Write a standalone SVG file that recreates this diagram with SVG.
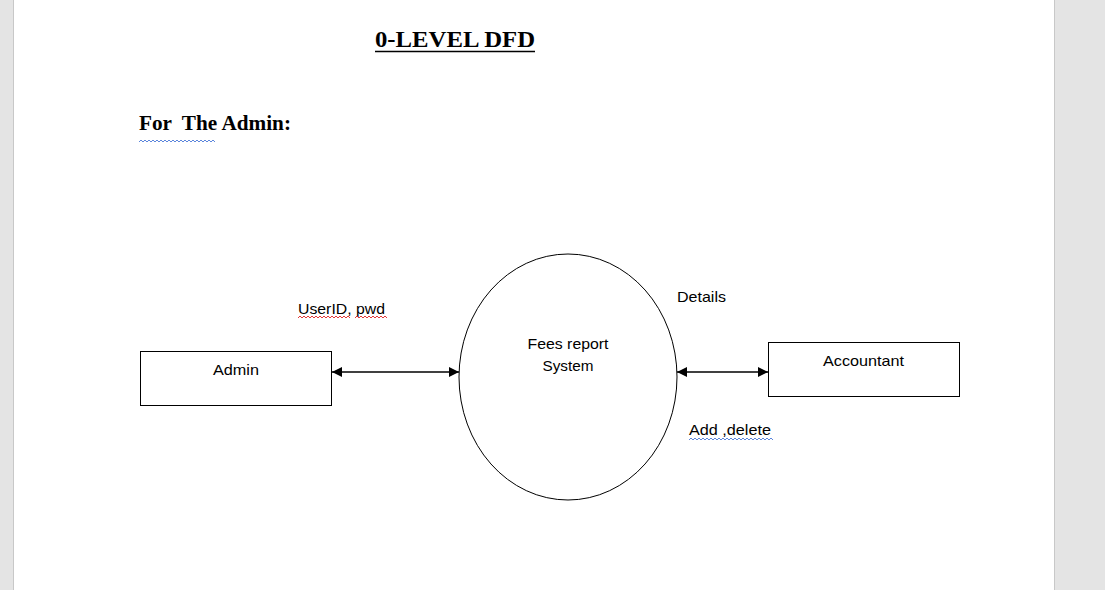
<svg xmlns="http://www.w3.org/2000/svg" width="1105" height="590" viewBox="0 0 1105 590">
<defs>
<marker id="arr" viewBox="0 0 10 10" refX="10" refY="5" markerWidth="10" markerHeight="10" markerUnits="userSpaceOnUse" orient="auto-start-reverse">
<path d="M0,0 L10,5 L0,10 z" fill="#000"/>
</marker>
<pattern id="wave" width="4" height="4" patternUnits="userSpaceOnUse"><path d="M0,3 L2,1 L4,3" fill="none" stroke-width="0.8"/></pattern>
</defs>
<style>
.lbl{font-family:"Liberation Sans",Arial,sans-serif;font-size:15px;fill:#000}
.ttl{font-family:"Liberation Serif","Times New Roman",serif;font-weight:bold;fill:#000}
.shape{fill:#fff;stroke:#000;stroke-width:1}
.conn{stroke:#000;stroke-width:1.3;fill:none}
.sq-blue{fill:none;stroke:#4a78d8;stroke-width:0.9}
.sq-red{fill:none;stroke:#e02020;stroke-width:0.9}
</style>
<rect x="0" y="0" width="1105" height="590" fill="#e4e4e4"/>
<rect x="13" y="0" width="1041" height="590" fill="#fff"/>
<line x1="13.5" y1="0" x2="13.5" y2="590" stroke="#c8c8c8"/>
<line x1="1054.5" y1="0" x2="1054.5" y2="590" stroke="#c8c8c8"/>

<g id="title">
<text class="ttl" x="375" y="47" font-size="24" textLength="160" lengthAdjust="spacingAndGlyphs">0-LEVEL DFD</text>
<line x1="375" y1="51.5" x2="535" y2="51.5" stroke="#000" stroke-width="1.5"/>
<text class="ttl" x="139" y="130" font-size="21" textLength="152" lengthAdjust="spacingAndGlyphs" xml:space="preserve">For  The Admin:</text>
<path class="sq-blue" d="M139,142 l2,-2 l2,2 l2,-2 l2,2 l2,-2 l2,2 l2,-2 l2,2 l2,-2 l2,2 l2,-2 l2,2 l2,-2 l2,2 l2,-2 l2,2 l2,-2 l2,2 l2,-2 l2,2 l2,-2 l2,2 l2,-2 l2,2 l2,-2 l2,2 l2,-2 l2,2 l2,-2 l2,2 l2,-2 l2,2 l2,-2 l2,2 l2,-2 l2,2 l2,-2 l2,2"/>
</g>

<g id="connectors">
<line class="conn" x1="332" y1="372" x2="459" y2="372" marker-start="url(#arr)" marker-end="url(#arr)"/>
<line class="conn" x1="677" y1="372" x2="768" y2="372" marker-start="url(#arr)" marker-end="url(#arr)"/>
<text class="lbl" x="298" y="314" textLength="87" lengthAdjust="spacingAndGlyphs">UserID, pwd</text>
<path class="sq-red" d="M298,318 l2,-2 l2,2 l2,-2 l2,2 l2,-2 l2,2 l2,-2 l2,2 l2,-2 l2,2 l2,-2 l2,2 l2,-2 l2,2 l2,-2 l2,2 l2,-2 l2,2 l2,-2 l2,2 l2,-2 l2,2 l2,-2 l2,2 l2,-2 l2,2"/>
<path class="sq-red" d="M355,318 l2,-2 l2,2 l2,-2 l2,2 l2,-2 l2,2 l2,-2 l2,2 l2,-2 l2,2 l2,-2 l2,2 l2,-2 l2,2 l2,-2 l2,2"/>
<text class="lbl" x="677" y="302" textLength="49" lengthAdjust="spacingAndGlyphs">Details</text>
<text class="lbl" x="689" y="435" textLength="82" lengthAdjust="spacingAndGlyphs">Add ,delete</text>
<path class="sq-blue" d="M689,440 l2,-2 l2,2 l2,-2 l2,2 l2,-2 l2,2 l2,-2 l2,2 l2,-2 l2,2 l2,-2 l2,2 l2,-2 l2,2 l2,-2 l2,2 l2,-2 l2,2 l2,-2 l2,2 l2,-2 l2,2 l2,-2 l2,2 l2,-2 l2,2 l2,-2 l2,2 l2,-2 l2,2 l2,-2 l2,2 l2,-2 l2,2 l2,-2 l2,2 l2,-2 l2,2 l2,-2 l2,2 l2,-2 l2,2"/>
</g>

<g id="admin">
<rect class="shape" x="140.5" y="351.5" width="191" height="54"/>
<text class="lbl" x="236" y="375" text-anchor="middle" textLength="46" lengthAdjust="spacingAndGlyphs">Admin</text>
</g>

<g id="system">
<ellipse class="shape" cx="568" cy="377" rx="109" ry="123"/>
<text class="lbl" x="568" y="349" text-anchor="middle" textLength="81" lengthAdjust="spacingAndGlyphs">Fees report</text>
<text class="lbl" x="568" y="371" text-anchor="middle" textLength="51" lengthAdjust="spacingAndGlyphs">System</text>
</g>

<g id="accountant">
<rect class="shape" x="768.5" y="342.5" width="191" height="54"/>
<text class="lbl" x="863.5" y="366" text-anchor="middle" textLength="81" lengthAdjust="spacingAndGlyphs">Accountant</text>
</g>
</svg>
